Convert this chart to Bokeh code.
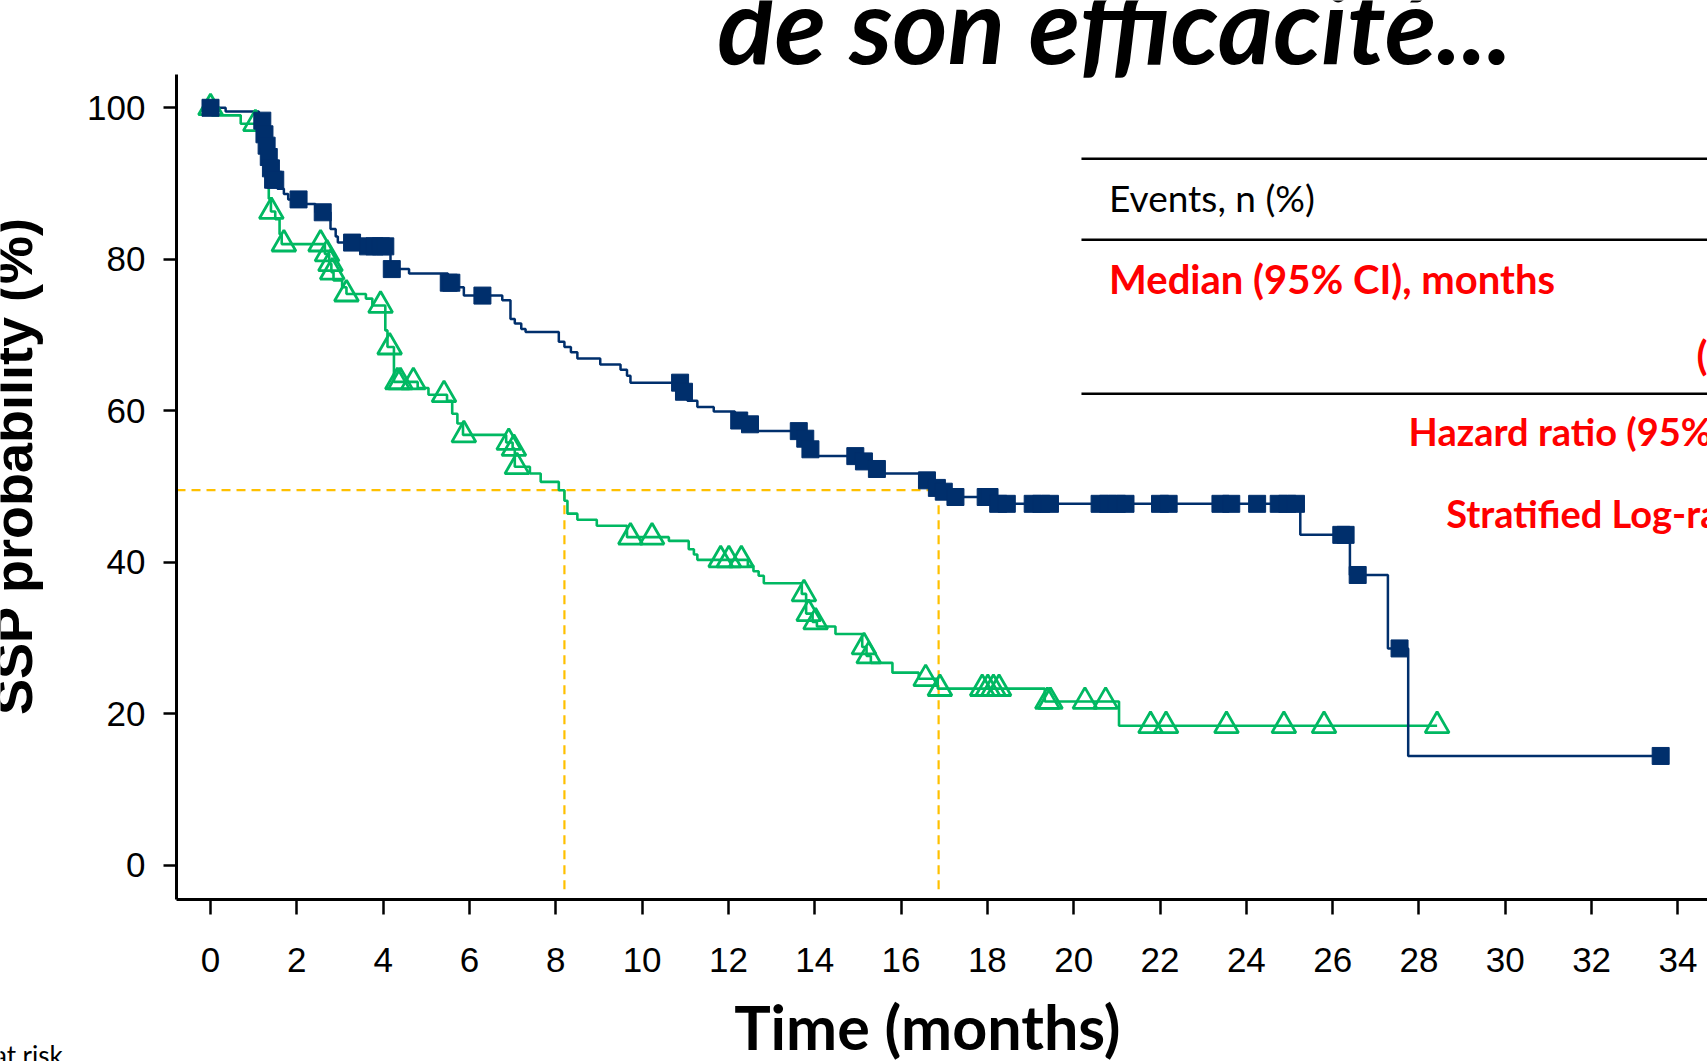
import numpy as np
from bokeh.plotting import figure
from bokeh.models import Range1d, FixedTicker, Label
from bokeh.embed import file_html
from bokeh.resources import INLINE

# ---------------- data ----------------
x_ticks = list(range(0, 35, 2))
y_ticks = [0, 20, 40, 60, 80, 100]

# arm 1 (navy, squares): step times (months) and survival after step (%)
blue_t = [0, 0.35, 1.12, 1.18, 1.22, 1.27, 1.32, 1.37, 1.45, 1.55, 1.7, 1.8, 2.2, 2.43,
          2.78, 2.9, 2.95, 3.45, 4.17, 4.6, 5.5, 5.6, 5.87, 6.76, 6.95, 7.05, 7.2, 7.3,
          8.07, 8.2, 8.35, 8.5, 9.03, 9.5, 9.65, 9.73, 10.93, 11.05, 11.28, 11.66,
          12.15, 12.45, 12.65, 13.7, 13.85, 13.95, 15.05, 15.3, 15.55, 16.55, 16.8,
          16.95, 17.1, 18.1, 25.25, 26.4, 27.28, 27.75]
blue_s = [100, 99.5, 99.0, 98.3, 96.5, 95.0, 93.5, 92.0, 90.5, 89.3, 88.6, 87.9, 87.3, 86.2,
          84.0, 83.0, 82.2, 81.7, 78.7, 78.1, 76.9, 76.3, 75.2, 74.6, 72.1, 71.5, 70.8, 70.4,
          69.1, 68.4, 67.7, 66.9, 66.1, 65.4, 64.6, 63.7, 62.5, 61.3, 60.5, 59.9,
          58.7, 58.2, 57.3, 56.3, 54.9, 54.0, 53.3, 52.3, 51.7, 50.8, 49.8,
          49.3, 48.6, 47.7, 43.6, 38.3, 28.6, 14.4]
blue_censor = [0.0, 1.2, 1.25, 1.3, 1.35, 1.4, 1.45, 1.5, 2.04, 2.6, 3.28, 3.65, 3.8, 3.95,
               4.05, 4.2, 5.52, 5.58, 6.3, 10.88, 10.97, 12.25, 12.5, 13.63, 13.78, 13.9,
               14.94, 15.14, 15.44, 16.6, 16.83, 16.99, 17.26, 17.96, 18.05, 18.25, 18.45,
               19.05, 19.25, 19.45, 20.6, 20.8, 21.0, 21.2, 22.0, 22.2, 23.4, 23.65, 24.25,
               24.75, 24.95, 25.15, 26.2, 26.3, 26.58, 27.55, 33.6]

# arm 2 (green, open triangles)
green_t = [0, 0.03, 0.7, 1.15, 1.2, 1.25, 1.3, 1.35, 1.4, 1.5, 1.6, 1.65, 2.65, 2.75, 2.8,
           2.85, 3.05, 3.15, 3.6, 3.75, 4.05, 4.1, 4.25, 4.8, 5.05, 5.48, 5.6, 5.72, 5.85,
           6.85, 7.0, 7.05, 7.4, 7.65, 8.07, 8.2, 8.27, 8.5, 8.95, 9.65, 10.62, 11.08,
           11.2, 11.28, 12.45, 12.58, 12.7, 12.82, 13.7, 13.8, 13.95, 14.05, 14.48, 15.1,
           15.2, 15.3, 15.8, 16.41, 16.85, 19.33, 21.05]
green_s = [100, 99.0, 97.9, 96.0, 94.0, 92.0, 90.0, 88.0, 86.3, 85.3, 83.3, 82.0, 80.7, 79.4,
           78.3, 77.2, 76.3, 75.4, 74.8, 73.9, 70.6, 68.4, 63.8, 63.0, 62.1, 61.3, 59.6,
           58.3, 56.8, 55.8, 55.0, 52.6, 51.7, 50.6, 49.5, 48.1, 46.4, 45.6, 44.8, 43.3,
           42.8, 41.7, 41.0, 40.3, 39.5, 38.8, 38.2, 37.2, 35.8, 33.2, 32.1, 31.5, 30.5,
           28.8, 27.6, 26.7, 25.4, 24.6, 23.3, 21.6, 18.4]
green_censor = [0.0, 1.04, 1.41, 1.7, 2.55, 2.7, 2.78, 2.82, 3.15, 3.94, 4.15, 4.33, 4.4, 4.7,
                5.41, 5.87, 6.91, 7.03, 7.1, 9.73, 10.23, 11.82, 12.01, 12.3, 13.75, 13.86,
                14.02, 15.14, 15.25, 16.57, 16.9, 17.88, 18.01, 18.14, 18.27, 19.39, 19.46,
                20.26, 20.74, 21.78, 22.14, 23.54, 24.87, 25.8, 28.42]

median_times = [8.2, 16.87]
median_level = 49.5

BLUE = "#002F6C"
GREEN = "#00B862"
GOLD = "#FFC000"
RED = "#FF0000"

# visible window (whole canvas) and axis extents, in data units
VX0, VX1 = -4.866, 34.685
VY0, VY1 = -25.95, 114.17
AX_X, AX_Y = -0.788, -4.556      # where the y axis and the x axis sit
AY_TOP = 104.4


def km_path(t, s, t_end):
    return list(t) + [t_end], list(s) + [s[-1]]


def level_at(t, s, c):
    idx = np.searchsorted(np.array(t), np.array(c), side="right") - 1
    return list(np.array(s)[idx])


p = figure(width=1707, height=1061, x_range=Range1d(VX0, VX1), y_range=Range1d(VY0, VY1),
           output_backend="svg", toolbar_location=None,
           min_border_left=0, min_border_right=0, min_border_top=0, min_border_bottom=0)
p.outline_line_color = None
p.grid.visible = False
p.background_fill_color = "white"
p.border_fill_color = "white"

xa, ya = p.xaxis[0], p.yaxis[0]
for ax in (xa, ya):
    ax.axis_line_width = 3
    ax.axis_line_color = "black"
    ax.major_tick_line_width = 2.5
    ax.major_tick_line_color = "black"
    ax.minor_tick_line_color = None
    ax.major_tick_in = 0
    ax.major_label_text_font = "Liberation Sans"
    ax.major_label_text_font_size = "35px"
    ax.major_label_text_color = "black"

xa.ticker = FixedTicker(ticks=x_ticks)
xa.fixed_location = AX_Y
xa.bounds = (AX_X, VX1)
xa.major_tick_out = 15
xa.major_label_standoff = 33

ya.ticker = FixedTicker(ticks=y_ticks)
ya.fixed_location = AX_X
ya.bounds = (AX_Y, AY_TOP)
ya.major_tick_out = 13
ya.major_label_standoff = 18

# median dashed guides
p.line([AX_X, median_times[1]], [median_level, median_level], line_color=GOLD,
       line_width=2.2, line_dash="9 6")
for mt in median_times:
    p.line([mt, mt], [median_level, AX_Y + 0.8], line_color=GOLD, line_width=2.2,
           line_dash="9 6")

# KM curves
gx, gy = km_path(green_t, green_s, max(green_censor))
p.step(gx, gy, mode="after", line_color=GREEN, line_width=2.6)
bx, by = km_path(blue_t, blue_s, max(blue_censor))
p.step(bx, by, mode="after", line_color=BLUE, line_width=2.5)

p.scatter(green_censor, level_at(green_t, green_s, green_censor), marker="triangle",
          size=24, fill_color=None, line_color=GREEN, line_width=2.8)
p.scatter(blue_censor, level_at(blue_t, blue_s, blue_censor), marker="square",
          size=17, fill_color=BLUE, line_color=BLUE)

# table rules
rule_y = [93.26, 82.57, 62.23]
p.segment(x0=[20.18] * 3, y0=rule_y, x1=[VX1] * 3, y1=rule_y, line_color="black",
          line_width=2.5)

labels = [
    dict(x=20.95, y=111.14, text="de son efficacité...", text_font="Lato",
         text_font_style="bold italic", text_font_size="106px", text_color="black",
         text_align="center"),
    dict(x=-4.58, y=52.7, text="SSP probability (%)", text_font="Liberation Sans",
         text_font_style="bold", text_font_size="54px", text_color="black",
         text_align="center", angle=np.pi / 2),
    dict(x=16.61, y=-21.3, text="Time (months)", text_font="Lato",
         text_font_style="bold", text_font_size="61px", text_color="black",
         text_align="center"),
    dict(x=-3.41, y=-25.03, text="Number at risk", text_font="Lato",
         text_font_style="normal", text_font_size="26px", text_color="black",
         text_align="right"),
    dict(x=20.82, y=88.19, text="Events, n (%)", text_font="Lato",
         text_font_style="normal", text_font_size="37px", text_color="black",
         text_align="left"),
    dict(x=20.82, y=77.39, text="Median (95% CI), months", text_font="Lato",
         text_font_style="bold", text_font_size="40px", text_color=RED,
         text_align="left"),
    dict(x=34.43, y=67.35, text="(", text_font="Lato",
         text_font_style="bold", text_font_size="40px", text_color=RED,
         text_align="left"),
    dict(x=27.76, y=57.34, text="Hazard ratio (95% CI)", text_font="Lato",
         text_font_style="bold", text_font_size="38px", text_color=RED,
         text_align="left"),
    dict(x=28.63, y=46.51, text="Stratified Log-rank p-value", text_font="Lato",
         text_font_style="bold", text_font_size="38px", text_color=RED,
         text_align="left"),
]
for kw in labels:
    p.add_layout(Label(text_baseline="alphabetic", **kw))

open("out.html", "w").write(file_html(p, INLINE))
